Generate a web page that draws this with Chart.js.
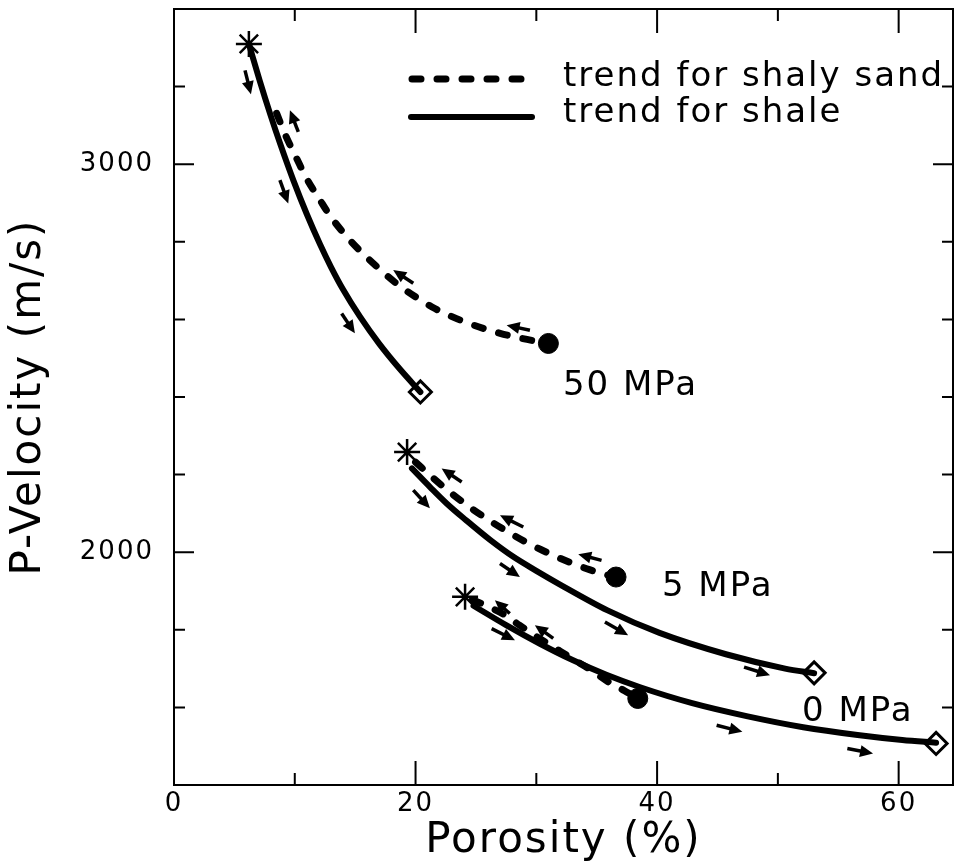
<!DOCTYPE html>
<html>
<head>
<meta charset="utf-8">
<script src="https://cdn.jsdelivr.net/npm/chart.js@4"></script>
<style>
html, body { margin: 0; padding: 0; background: #fff; }
</style>
</head>
<body>
<canvas id="myChart" width="956" height="866"></canvas>
<script>
// trend curves, porosity (%) vs P-velocity (m/s)
const shale50Phi = [6.2, 7.1, 8.0, 8.8, 9.9, 11.0, 12.1, 13.0, 14.0, 15.4, 17.0, 18.7, 20.4];
const shale50Vp = [3310, 3215, 3126, 3052, 2957, 2871, 2793, 2735, 2677, 2607, 2537, 2472, 2413];
const sand50Phi = [8.5, 9.2, 10.2, 11.0, 12.0, 12.9, 14.2, 15.3, 16.9, 18.4, 20.0, 21.6, 23.4, 25.2, 27.0, 28.8, 31.0];
const sand50Vp = [3131, 3077, 3012, 2962, 2912, 2868, 2817, 2780, 2733, 2693, 2658, 2628, 2602, 2581, 2564, 2551, 2538];

const shale5Phi = [19.7, 21.2, 22.6, 24.2, 26.2, 28.1, 30.0, 32.0, 35.9, 40.2, 45.7, 50.6, 53.0];
const shale5Vp = [2216, 2168, 2125, 2082, 2031, 1988, 1952, 1916, 1850, 1792, 1737, 1700, 1688];
const sand5Phi = [20.0, 21.5, 22.8, 24.4, 25.9, 27.5, 29.2, 30.9, 32.6, 34.4, 36.6];
const sand5Vp = [2232, 2190, 2156, 2118, 2086, 2055, 2025, 1999, 1976, 1955, 1935];

const shale0Phi = [24.8, 27.5, 30.3, 33.0, 35.8, 38.6, 42.9, 47.5, 52.1, 56.6, 60.3, 63.1];
const shale0Vp = [1862, 1812, 1764, 1722, 1684, 1652, 1611, 1577, 1549, 1529, 1516, 1509];
const sand0Phi = [24.7, 26.0, 27.3, 28.6, 30.0, 31.5, 33.0, 34.5, 36.0, 37.3, 38.4];
const sand0Vp = [1878, 1860, 1840, 1812, 1783, 1754, 1725, 1697, 1665, 1643, 1623];

// end markers
const startPhi = [6.2, 19.3, 24.1];
const startVp = [3310, 2258, 1885];
const shaleEndPhi = [20.4, 53.0, 63.1];
const shaleEndVp = [2413, 1689, 1507];
const sandEndPhi = [31.0, 36.6, 38.4];
const sandEndVp = [2538, 1936, 1623];

// pressure labels
const pressureLabels = ['50 MPa', '5 MPa', '0 MPa'];
const labelPhi = [32.2, 40.4, 52.0];
const labelVp = [2428, 1911, 1588];

// small direction arrows [phi, vp]
const arrowTail = [
    [5.88, 3242], [10.29, 3083], [8.77, 2959], [19.81, 2693], [13.88, 2615], [29.47, 2572],
    [23.82, 2181], [19.81, 2160], [28.92, 2065], [26.99, 1971], [35.4, 1979], [35.68, 1820], [47.2, 1704],
    [27.8, 1842], [26.3, 1803], [31.4, 1778], [44.93, 1554], [55.75, 1494]
];
const arrowHead = [
    [6.37, 3180], [9.6, 3139], [9.46, 2899], [18.15, 2727], [14.98, 2564], [27.54, 2585],
    [22.16, 2216], [21.19, 2113], [26.99, 2095], [28.64, 1936], [33.47, 1995], [37.6, 1786], [49.35, 1683],
    [26.57, 1876], [28.23, 1773], [29.88, 1812], [47.06, 1537], [57.88, 1481]
];

// axis ticks
const phiTicks = [10, 20, 30, 40, 50, 60];
const phiMajor = [20, 40, 60];
const vpTicks = [1600, 1800, 2000, 2200, 2400, 2600, 2800, 3000, 3200];
const vpMajor = [2000, 3000];

const legendLabels = ['trend for shaly sand', 'trend for shale'];

function pts(xs, ys) {
    return xs.map((x, i) => ({ x: x, y: ys[i] }));
}

function curve(xs, ys, dashed) {
    return {
        data: pts(xs, ys),
        borderColor: '#000',
        borderWidth: dashed ? 7 : 6,
        borderDash: dashed ? [9, 16] : [],
        borderCapStyle: 'round',
        borderJoinStyle: 'round',
        pointRadius: 0,
        cubicInterpolationMode: 'monotone',
        fill: false
    };
}

function markers(xs, ys, style, fill, radius, width) {
    return {
        data: pts(xs, ys),
        showLine: false,
        pointStyle: style,
        pointRadius: radius,
        pointBackgroundColor: fill,
        pointBorderColor: '#000',
        pointBorderWidth: width
    };
}

const FONT = "'DejaVu Sans', sans-serif";

const framePlugin = {
    id: 'frame',
    beforeDraw(chart) {
        chart.ctx.letterSpacing = '2px';
    },
    afterDraw(chart) {
        const ctx = chart.ctx;
        const a = chart.chartArea;
        const xs = chart.scales.x, ys = chart.scales.y;
        ctx.save();
        ctx.strokeStyle = '#000';
        ctx.lineWidth = 2;
        ctx.strokeRect(a.left, a.top, a.right - a.left, a.bottom - a.top);
        ctx.beginPath();
        phiTicks.forEach((v) => {
            const px = xs.getPixelForValue(v);
            const len = phiMajor.includes(v) ? 24 : 12;
            ctx.moveTo(px, a.bottom); ctx.lineTo(px, a.bottom - len);
            ctx.moveTo(px, a.top); ctx.lineTo(px, a.top + len);
        });
        vpTicks.forEach((v) => {
            const py = ys.getPixelForValue(v);
            const len = vpMajor.includes(v) ? 20 : 11;
            ctx.moveTo(a.left, py); ctx.lineTo(a.left + len, py);
            ctx.moveTo(a.right, py); ctx.lineTo(a.right - len, py);
        });
        ctx.stroke();

        // arrows
        ctx.fillStyle = '#000';
        ctx.lineWidth = 3.5;
        arrowTail.forEach((t, i) => {
            const h = arrowHead[i];
            const x0 = xs.getPixelForValue(t[0]), y0 = ys.getPixelForValue(t[1]);
            const x1 = xs.getPixelForValue(h[0]), y1 = ys.getPixelForValue(h[1]);
            const ang = Math.atan2(y1 - y0, x1 - x0);
            const c = Math.cos(ang), s = Math.sin(ang);
            ctx.beginPath();
            ctx.moveTo(x0, y0);
            ctx.lineTo(x1 - 9 * c, y1 - 9 * s);
            ctx.stroke();
            ctx.beginPath();
            ctx.moveTo(x1, y1);
            ctx.lineTo(x1 - 13 * c + 6 * s, y1 - 13 * s - 6 * c);
            ctx.lineTo(x1 - 13 * c - 6 * s, y1 - 13 * s + 6 * c);
            ctx.closePath();
            ctx.fill();
        });

        // pressure labels
        ctx.font = '34px ' + FONT;
        ctx.textAlign = 'left';
        ctx.textBaseline = 'middle';
        pressureLabels.forEach((t, i) => {
            ctx.fillText(t, xs.getPixelForValue(labelPhi[i]), ys.getPixelForValue(labelVp[i]));
        });

        // legend
        const lx = a.left + 234, tx = a.left + 389;
        const ly = [a.top + 70, a.top + 108];
        ctx.lineCap = 'round';
        ctx.lineWidth = 7;
        ctx.setLineDash([9, 16]);
        ctx.beginPath(); ctx.moveTo(lx + 4, ly[0]); ctx.lineTo(lx + 128, ly[0]); ctx.stroke();
        ctx.setLineDash([]);
        ctx.lineWidth = 6;
        ctx.beginPath(); ctx.moveTo(lx + 3, ly[1]); ctx.lineTo(lx + 124, ly[1]); ctx.stroke();
        ctx.font = '34px ' + FONT;
        ctx.fillText(legendLabels[0], tx, ly[0] - 2);
        ctx.fillText(legendLabels[1], tx, ly[1] - 4);
        ctx.restore();
    }
};

Chart.defaults.font.family = FONT;
Chart.defaults.color = '#000';

const ctx = document.getElementById('myChart');

function noPad(s) {
    s.paddingLeft = 0;
    s.paddingRight = 0;
    s.paddingTop = 0;
    s.paddingBottom = 0;
}

const chart = new Chart(ctx, {
    type: 'line',
    data: {
        datasets: [
            curve(shale50Phi, shale50Vp, false),
            curve(sand50Phi, sand50Vp, true),
            curve(shale5Phi, shale5Vp, false),
            curve(sand5Phi, sand5Vp, true),
            curve(shale0Phi, shale0Vp, false),
            curve(sand0Phi, sand0Vp, true),
            markers(startPhi, startVp, 'star', '#000', 13, 2.5),
            markers(shaleEndPhi, shaleEndVp, 'rectRot', '#fff', 11, 3),
            markers(sandEndPhi, sandEndVp, 'circle', '#000', 10, 1)
        ]
    },
    options: {
        responsive: false,
        animation: false,
        layout: { autoPadding: false, padding: { top: 9, right: 3, left: 0, bottom: 0 } },
        plugins: { legend: { display: false }, tooltip: { enabled: false } },
        scales: {
            x: {
                type: 'linear',
                min: 0,
                max: 64.5,
                grid: { display: false, drawTicks: false },
                border: { display: false },
                ticks: {
                    stepSize: 20,
                    includeBounds: false,
                    autoSkip: false,
                    maxRotation: 0,
                    padding: 4,
                    font: { size: 26 },
                    callback: (v) => (v % 20 === 0 ? String(v) : null)
                },
                title: {
                    display: true,
                    text: 'Porosity (%)',
                    font: { size: 42 },
                    padding: { top: 0, bottom: 0 }
                },
                afterFit: (s) => { s.height = 81; noPad(s); }
            },
            y: {
                type: 'linear',
                min: 1400,
                max: 3400,
                grid: { display: false, drawTicks: false },
                border: { display: false },
                ticks: {
                    stepSize: 200,
                    autoSkip: false,
                    padding: 20,
                    font: { size: 26 },
                    callback: (v) => (v % 1000 === 0 ? String(v) : null)
                },
                title: {
                    display: true,
                    text: 'P-Velocity (m/s)',
                    font: { size: 42 },
                    padding: { top: 4, bottom: 0 }
                },
                afterFit: (s) => { s.width = 174; noPad(s); }
            }
        }
    },
    plugins: [framePlugin]
});
</script>
</body>
</html>
